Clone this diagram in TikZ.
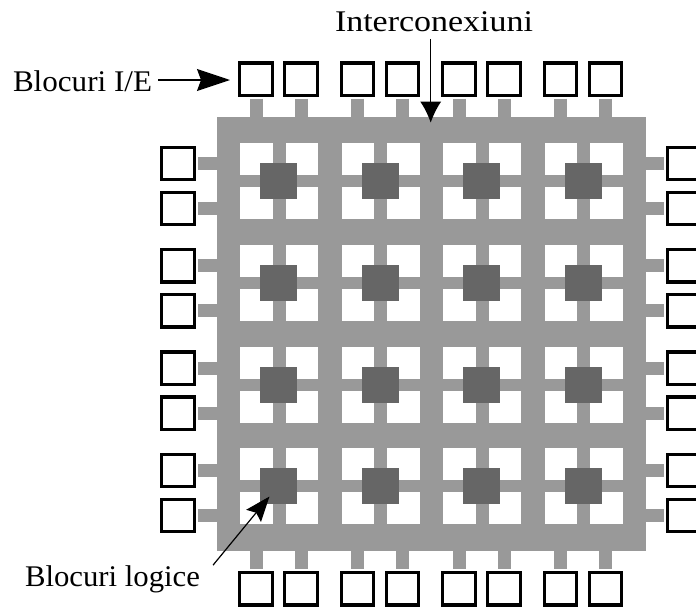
\documentclass[tikz,border=0pt]{standalone}
\usepackage{fontspec}
\setmainfont{Liberation Serif}
\usetikzlibrary{arrows.meta}
\definecolor{gridgray}{HTML}{999999}
\definecolor{cellgray}{HTML}{666666}
\begin{document}
\begin{tikzpicture}[x=1pt,y=-1pt,
  board/.style={fill=gridgray, inner sep=0pt, outer sep=0pt,
    minimum width=429pt, minimum height=434pt},
  logicblock/.style={fill=cellgray, inner sep=0pt, outer sep=0pt,
    minimum width=37pt, minimum height=36pt},
  iopad/.style={draw=black, line width=3.3pt, fill=white, inner sep=0pt,
    outer sep=1.65pt, minimum size=32.4pt},
  stub/.style={draw=gridgray, line width=13pt},
  annot/.style={inner sep=0pt, outer sep=0pt, anchor=base west,
    font=\fontsize{30}{30}\selectfont},
  pointer/.style={draw=black, line width=1.3pt}
]
\useasboundingbox (0,0) rectangle (696,608);
\clip (0,0) rectangle (696,608);

% routing fabric
\node[board] (board) at (431.5,334) {};

% 4x4 array of logic cells: four openings each, logic block in the middle
\foreach \i in {0,...,3} {
  \foreach \j in {0,...,3} {
    \pgfmathsetmacro\xo{240+101.5*\i}
    \pgfmathsetmacro\yo{143.3+101.7*\j}
    \fill[white] (\xo,\yo) rectangle ++(32.5,32);
    \fill[white] (\xo+45.5,\yo) rectangle ++(32.5,32);
    \fill[white] (\xo,\yo+44) rectangle ++(32.5,32);
    \fill[white] (\xo+45.5,\yo+44) rectangle ++(32.5,32);
    \node[logicblock] (lb-\i-\j) at (\xo+38.7,\yo+38) {};
  }
}

% I/O pads on the top and bottom edges
\foreach \i in {0,...,3} {
  \foreach \k [count=\n] in {16,61} {
    \pgfmathsetmacro\px{240+101.5*\i+\k}
    \node[iopad] (top-\i-\n) at (\px,79.2) {};
    \draw[stub] ([yshift=-1.5pt]top-\i-\n.south) -- (top-\i-\n.south |- board.north);
    \node[iopad] (bot-\i-\n) at (\px,588.7) {};
    \draw[stub] (bot-\i-\n.north |- board.south) -- ([yshift=2pt]bot-\i-\n.north);
  }
}

% I/O pads on the left and right edges
\foreach \j in {0,...,3} {
  \foreach \k [count=\n] in {0,45} {
    \pgfmathsetmacro\py{163.5+102.3*\j+\k}
    \node[iopad] (lft-\j-\n) at (178,\py) {};
    \draw[stub] ([xshift=2.5pt]lft-\j-\n.east) -- (lft-\j-\n.east -| board.west);
    \node[iopad] (rgt-\j-\n) at (683.9,\py) {};
    \draw[stub] (rgt-\j-\n.west -| board.east) -- ([xshift=-2.5pt]rgt-\j-\n.west);
  }
}

% labels
\node[annot] (ioLabel) at (13,91) {\resizebox{139pt}{\height}{Blocuri I/E}};
\node[annot] (icLabel) at (335,31.7) {\resizebox{198pt}{\height}{Interconexiuni}};
\node[annot] (lgLabel) at (25,586) {\resizebox{175pt}{\height}{Blocuri logice}};

% pointers
\coordinate (ioTip) at (230,80);
\coordinate (icTip) at (430.7,122.7);
\coordinate (lgTip) at (269.5,496.5);
\draw[pointer, -{Stealth[length=33pt,width=22pt,inset=4pt]}]
  ([xshift=6pt]ioLabel.east |- ioTip) -- (ioTip);
\draw[pointer, -{Latex[length=21pt,width=21pt]}]
  ([yshift=-7pt]icLabel.south -| icTip) -- (icTip);
\draw[pointer, line width=1.2pt, -{Stealth[length=25pt,width=19pt,inset=4pt]}]
  ([xshift=13pt]lgLabel.north east) -- (lgTip);
\end{tikzpicture}
\end{document}
